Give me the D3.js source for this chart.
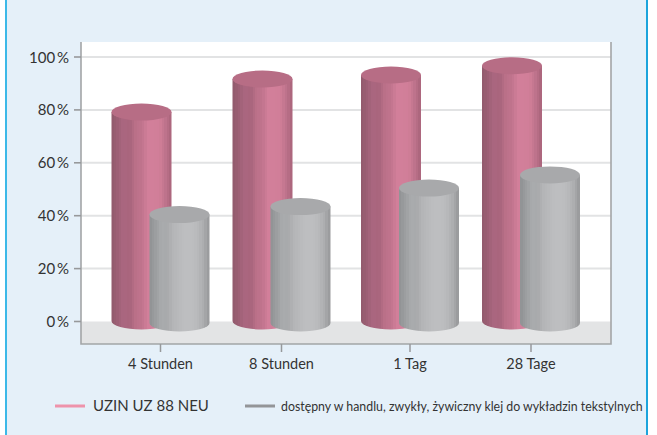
<!DOCTYPE html>
<html><head><meta charset="utf-8">
<script src="https://cdn.jsdelivr.net/npm/d3@7/dist/d3.min.js"></script>
<style>html,body{margin:0;padding:0;background:#fff}svg{display:block}text{font-family:Lato,sans-serif;fill:#333}</style>
</head><body><svg id="c" width="657" height="435"></svg>
<script>
const categories = ["4 Stunden","8 Stunden","1 Tag","28 Tage"];
const seriesNames = ["UZIN UZ 88 NEU","dostępny w handlu, zwykły, żywiczny klej do wykładzin tekstylnych"];
const uzinValues = [79,91.5,93,96.5];
const standardValues = [41,44,51,56];
const yTicks = [0,20,40,60,80,100];
const W=657,H=435;
const svg=d3.select("#c");
const L=81,R=611,T=42,B=344;
const y=d3.scaleLinear().domain([0,100]).range([321.5,57]);
const x=d3.scaleOrdinal().domain(categories).range([160.5,281.5,410,531]);
const cfg=[
 {vals:uzinValues,off:-19,base:321,top:"#b76d85",stops:["#915a6c","#9c5f74","#ab6780","#a8647c","#bb7089","#c0748d","#d27f9a","#d27f9a","#d07e98","#bd728b","#a9647b"],leg:"#ee93ab"},
 {vals:standardValues,off:19,base:323,top:"#a8a9ab",stops:["#8f9193","#9b9d9f","#a9abad","#a8aaac","#b4b5b7","#b9babc","#bdbec0","#bdbec0","#b9babc","#acadaf","#96989a"],leg:"#939598"}
];
const rx=30,ry=8.5;
const defs=svg.append("defs");
cfg.forEach((s,i)=>{
  const g=defs.append("linearGradient").attr("id","g"+i);
  const interp=d3.piecewise(d3.interpolateRgb,s.stops);
  const n=24;
  d3.range(n).forEach(k=>{
    const c=interp((k+.5)/n);
    g.append("stop").attr("offset",k/n).attr("stop-color",c);
    g.append("stop").attr("offset",(k+1)/n).attr("stop-color",c);
  });
});
// panel
svg.append("rect").attr("x",6).attr("y",-2).attr("width",641).attr("height",H+4).attr("fill","#e5f0f9");
svg.append("rect").attr("x",5).attr("y",0).attr("width",2).attr("height",H).attr("fill","#3cb9e8");
svg.append("rect").attr("x",646).attr("y",0).attr("width",2).attr("height",H).attr("fill","#1ca4dc");
// plot
svg.append("rect").attr("x",L).attr("y",T).attr("width",R-L).attr("height",B-T).attr("fill","#fff");
svg.append("rect").attr("x",L).attr("y",y(0)).attr("width",R-L).attr("height",B-y(0)).attr("fill","#e3e4e5");
svg.selectAll(".grid").data(yTicks.filter(d=>d>0)).join("line").attr("x1",L).attr("x2",R).attr("y1",y).attr("y2",y).attr("stroke","#e2e3e4").attr("stroke-width",2);
svg.append("path").attr("d",`M${L},${T}V${B}H${R}V${T}`).attr("fill","none").attr("stroke","#a3a5a7").attr("stroke-width",1.6);
svg.selectAll(".yt").data(yTicks).join("line").attr("x1",74).attr("x2",L).attr("y1",y).attr("y2",y).attr("stroke","#97999b").attr("stroke-width",1.6);
svg.selectAll(".yl").data(yTicks).join("text").attr("x",69).attr("y",d=>y(d)+5.5).attr("text-anchor","end").attr("font-size",15).text(d=>d+"\u2009%");
svg.selectAll(".xt").data(categories).join("line").attr("x1",x).attr("x2",x).attr("y1",B).attr("y2",352).attr("stroke","#97999b").attr("stroke-width",1.5);
svg.selectAll(".xl").data(categories).join("text").attr("x",x).attr("y",369).attr("text-anchor","middle").attr("font-size",14.5).text(d=>d);
// cylinders
categories.forEach((c,ci)=>{
  cfg.forEach((s,i)=>{
    const cx=x(c)+s.off, x0=cx-rx, x1=cx+rx, yt=y(s.vals[ci])+(s.base-321.5), yb=s.base;
    svg.append("path").attr("d",`M${x0},${yt}L${x0},${yb}A${rx},${ry} 0 0 0 ${x1},${yb}L${x1},${yt}Z`).attr("fill",`url(#g${i})`);
    svg.append("ellipse").attr("cx",cx).attr("cy",yt).attr("rx",rx).attr("ry",ry).attr("fill",s.top);
  });
});
// legend
svg.append("line").attr("x1",55).attr("x2",85).attr("y1",406).attr("y2",406).attr("stroke",cfg[0].leg).attr("stroke-width",3);
svg.append("line").attr("x1",245).attr("x2",275).attr("y1",406).attr("y2",406).attr("stroke",cfg[1].leg).attr("stroke-width",3);
svg.append("text").attr("x",93).attr("y",411).attr("font-size",15).text(seriesNames[0]);
const t2=svg.append("text").attr("font-size",14).text(seriesNames[1]);
t2.attr("transform",`translate(281,410.5) scale(${362/t2.node().getComputedTextLength()},1)`);
</script></body></html>
